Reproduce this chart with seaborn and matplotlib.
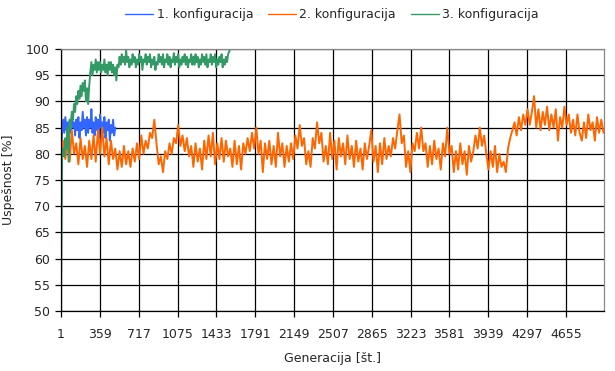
import numpy as np
import pandas as pd
import seaborn as sns
import matplotlib.pyplot as plt

# values (uspešnost [%] per generation)
step_1 = 10
config_1 = [80, 84, 86.5, 84, 87, 84.5, 86, 83.5, 86.5, 84, 87.5, 85, 86, 83.5, 86.5, 84.5,
            87, 83, 86, 84.5, 88, 85, 86.5, 83.5, 87, 84, 86.5, 85, 88.5, 84, 86, 83.5,
            87, 84.5, 86.5, 83, 87.5, 85, 86, 84, 87, 83, 86, 84.5, 86.5, 82.5, 85.5, 84,
            86.5, 83.5, 85]

step_2 = 20
config_2 = [80, 82.5, 79, 83, 78.5, 84.5, 80, 82, 78, 83, 79, 81.5, 77.5, 82.5, 79, 83.5,
            78.5, 84.5, 80, 85, 79.5, 83, 78, 82.5, 79, 81, 77, 80.5, 77.5, 81.5, 78, 80.5,
            77.5, 81, 78.5, 82, 79, 83.5, 80, 82.5, 81, 84, 83, 86.5, 82, 78, 79.5, 76.5,
            80.5, 79, 82, 80, 83, 82, 85.5, 81.5, 83.5, 80.5, 83, 79.5, 81.5, 77.5, 82, 78.5,
            81, 77, 82.5, 79, 83.5, 79.5, 84, 78, 82, 79, 83, 78.5, 82.5, 79.5, 81, 77.5,
            82.5, 78, 81.5, 77, 82, 80, 83, 80.5, 84, 81, 85, 80, 82.5, 76.5, 82, 79,
            82.5, 78, 81.5, 77.5, 84, 79.5, 82, 77.5, 81.5, 78.5, 82, 79, 83.5, 81, 85.5, 81.5,
            83, 78, 80.5, 77.5, 83, 81, 86, 82, 84, 78.5, 81.5, 78, 84, 79, 82.5, 77,
            83, 79.5, 82, 78, 83.5, 79, 81.5, 77.5, 82.5, 78.5, 81, 77, 82, 79, 81.5, 84.5,
            78.5, 81.5, 76.5, 82, 78, 83, 79, 81.5, 79.5, 83, 81, 84.5, 87.5, 82, 83.5, 77.5,
            80.5, 76.5, 82, 80.5, 84, 81, 85, 80.5, 82, 77.5, 81.5, 78, 82.5, 79, 81, 77,
            82, 79.5, 85, 80, 81.5, 76.5, 80.5, 77, 82, 78, 80.5, 76, 81.5, 78.5, 80.5, 83.5,
            81, 85, 81.5, 83.5, 80, 77, 80.5, 77.5, 81.5, 76.5, 80, 77.5, 78.5, 76.5, 81, 83,
            84.5, 86, 83.5, 87, 84.5, 87.5, 85.5, 88.5, 85.5, 88, 91, 85, 88.5, 84.5, 88, 85.5,
            89, 84.5, 87.5, 85, 88.5, 82.5, 87, 85, 89, 85.5, 87.5, 84, 86.5, 83.5, 87.5, 84,
            82.5, 86, 83, 87.5, 84.5, 86, 82.5, 87, 84, 86.5, 84]

step_3 = 10
config_3 = [54.5, 79, 81, 79.5, 83, 81, 85, 78.5, 86.5, 85, 88, 86.5, 89.5, 88, 91, 89.5,
            92, 90.5, 93, 91, 93.5, 92, 94, 90, 92.5, 89.5, 93, 95.5, 97.5, 95, 97, 96,
            98, 95.5, 97.5, 96, 97.5, 95.5, 97, 96, 98, 95.5, 97, 95, 97.5, 96, 97.5, 95.5,
            97, 95, 96.5, 94, 97,
            96.5, 98.5, 97, 99, 97.5, 98.5, 97, 99.8, 97.5, 98.5, 96.5, 98, 97, 99, 97.5, 98.5,
            96.5, 98, 97, 99, 97.5, 98.5, 96, 98, 97.5, 99, 97, 98.5, 97.5, 99, 96.5, 98,
            97, 98.5, 96, 97.5, 97, 99, 97.5, 98.5, 97, 99, 96.5, 98, 97.5, 99, 97, 98.5,
            96.5, 98, 97.5, 99.2, 97, 98.5, 97.5, 99, 96.5, 98, 97, 98.5, 97.5, 99, 97, 98.5,
            96.5, 98, 97.5, 99, 97, 98.5, 97, 99, 97.5, 98.5, 96.5, 98, 97, 99, 97.5, 98.5,
            97, 99, 96.5, 98, 97.5, 99, 97, 98.5, 97.5, 99, 96.5, 98, 97, 98.5, 97.5, 99,
            96.5, 98, 97, 98.5, 97.5, 99, 99.5, 100]

labels = ['1. konfiguracija', '2. konfiguracija', '3. konfiguracija']
colors = ['#3366ff', '#ff6600', '#339966']
x_ticks = [1, 359, 717, 1075, 1433, 1791, 2149, 2507, 2865, 3223, 3581, 3939, 4297, 4655]
y_ticks = list(range(50, 101, 5))

frames = []
for lab, step, vals in zip(labels, [step_1, step_2, step_3], [config_1, config_2, config_3]):
    frames.append(pd.DataFrame({'gen': 1 + step * np.arange(len(vals)),
                                'val': vals, 'serija': lab}))
df = pd.concat(frames, ignore_index=True)

sns.set_style('white')
plt.rcParams['font.family'] = ['DejaVu Sans']

fig = plt.figure(figsize=(6.15, 3.71), dpi=100)
ax = fig.add_axes([0.0992, 0.1617, 0.8828, 0.7063])

sns.lineplot(data=df, x='gen', y='val', hue='serija', palette=colors,
             hue_order=labels, linewidth=1.4, ax=ax, legend=False, estimator=None)

ax.set_xlim(1, 5005)
ax.set_ylim(50, 100)
ax.set_xticks(x_ticks)
ax.set_yticks(y_ticks)
ax.grid(True, color='black', linewidth=0.9)
ax.set_axisbelow(True)
ax.tick_params(axis='x', length=4, width=0.9, color='black', direction='out', pad=8, labelsize=9)
ax.tick_params(axis='y', length=4, width=0.9, color='black', direction='out', pad=4, labelsize=9)
ax.tick_params(bottom=True, left=True)
for side in ['left', 'bottom']:
    ax.spines[side].set_color('black')
    ax.spines[side].set_linewidth(0.9)
for side in ['top', 'right']:
    ax.spines[side].set_color('#888888')
    ax.spines[side].set_linewidth(0.9)

ax.set_xlabel('Generacija [št.]', fontsize=9, labelpad=8)
ax.set_ylabel('Uspešnost [%]', fontsize=9, labelpad=8)

handles = [plt.Line2D([], [], color=c, linewidth=1.0) for c in colors]
fig.legend(handles, labels, ncol=3, loc='center', bbox_to_anchor=(0.54, 0.96),
           frameon=False, fontsize=9, handlelength=2.2, columnspacing=1.2, handletextpad=0.3)

fig.savefig('out.png', dpi=100)
